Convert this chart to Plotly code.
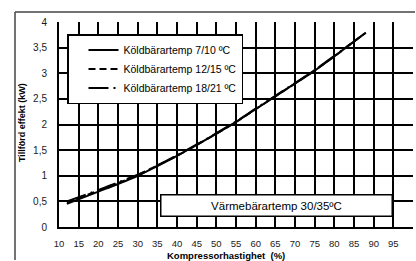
import plotly.graph_objects as go

# Data
speed = [12, 20, 25, 30, 35, 40, 45, 50, 55, 60, 65, 70, 75, 80, 85, 88]
effekt_7_10 = [0.45, 0.69, 0.84, 1.00, 1.19, 1.39, 1.60, 1.82, 2.05, 2.30, 2.55, 2.80, 3.05, 3.33, 3.62, 3.79]
effekt_12_15 = [0.48, 0.71, 0.86, 1.01, 1.20, 1.39, 1.60, 1.82, 2.05, 2.30, 2.55, 2.80, 3.06, 3.33, 3.62, 3.79]
effekt_18_21 = [0.50, 0.72, 0.87, 1.02, 1.20, 1.40, 1.61, 1.83, 2.06, 2.31, 2.56, 2.81, 3.06, 3.34, 3.62, 3.79]
series_names = ["Köldbärartemp 7/10 ºC", "Köldbärartemp 12/15 ºC", "Köldbärartemp 18/21 ºC"]
x_ticks = list(range(10, 101, 5))
y_ticks = [0, 0.5, 1, 1.5, 2, 2.5, 3, 3.5, 4]
x_range = [10, 100]
y_range = [0, 4]

FONT = "Liberation Sans, Arial, sans-serif"
W, H = 416, 261
ML, MR, MT, MB = 59, 3, 22, 34
PW, PH = W - ML - MR, H - MT - MB

def px_x(p):
    return (p - ML) / PW

def px_y(p):
    return (H - MB - p) / PH

fig = go.Figure()
dashes = ["solid", "7px,4px", "20px,5px,2px,5px"]
for name, ys, d in zip(series_names, [effekt_7_10, effekt_12_15, effekt_18_21], dashes):
    fig.add_trace(go.Scatter(x=speed, y=ys, mode="lines", name=name,
                             line=dict(color="black", width=2, dash=d, shape="spline")))

fig.update_layout(
    width=W, height=H,
    margin=dict(l=ML, r=MR, t=MT, b=MB),
    paper_bgcolor="white", plot_bgcolor="white",
    separators=",",
    font=dict(family=FONT, color="black"),
    showlegend=True,
    legend=dict(x=px_x(67), y=px_y(34), xanchor="left", yanchor="top",
                bgcolor="white", bordercolor="black", borderwidth=1.5,
                font=dict(size=10.5, family=FONT, color="black"),
                indentation=15),
    xaxis=dict(range=x_range, tickmode="array", tickvals=x_ticks,
               showgrid=True, gridcolor="#000000", gridwidth=1.5,
               showline=True, linecolor="#000000", linewidth=2, zeroline=False,
               ticks="outside", ticklen=7, tickcolor="rgba(0,0,0,0)",
               tickfont=dict(size=9.5, family=FONT, color="#1a1a1a")),
    yaxis=dict(range=y_range, tickmode="array", tickvals=y_ticks,
               showgrid=True, gridcolor="#000000", gridwidth=1.5,
               showline=True, linecolor="#000000", linewidth=2, zeroline=False,
               ticks="outside", ticklen=8, tickcolor="rgba(0,0,0,0)",
               tickfont=dict(size=10, family=FONT, color="#1a1a1a")),
)

# Axis titles
fig.add_annotation(xref="paper", yref="paper", x=px_x(226), y=px_y(255),
                   xanchor="center", yanchor="middle", showarrow=False,
                   text="<b>Kompressorhastighet  (%)</b>", font=dict(size=9.5, family=FONT, color="black"))
fig.add_annotation(xref="paper", yref="paper", x=px_x(22), y=px_y(123),
                   xanchor="center", yanchor="middle", showarrow=False, textangle=-90,
                   text="<b>Tillförd effekt (kW)</b>", font=dict(size=9, family=FONT, color="black"))

# Outer frame lines (left and top edges)
fig.add_shape(type="line", xref="paper", yref="paper", x0=px_x(15), x1=px_x(15),
              y0=px_y(12), y1=px_y(260), line=dict(color="#444444", width=1.5), layer="above")
fig.add_shape(type="line", xref="paper", yref="paper", x0=px_x(15), x1=px_x(415),
              y0=px_y(12), y1=px_y(12), line=dict(color="#444444", width=1.5), layer="above")

# Condition box
fig.add_annotation(xref="paper", yref="paper", x=px_x(276.5), y=px_y(205),
                   xanchor="center", yanchor="middle", showarrow=False,
                   text="Värmebärartemp 30/35ºC", font=dict(size=11.5, family=FONT, color="black"),
                   bgcolor="white", bordercolor="black", borderwidth=1.5, borderpad=2,
                   width=226, height=16)

fig.write_html("out.html", config={"displayModeBar": False},
               post_script="document.body.style.margin='0';document.body.style.padding='0';")
